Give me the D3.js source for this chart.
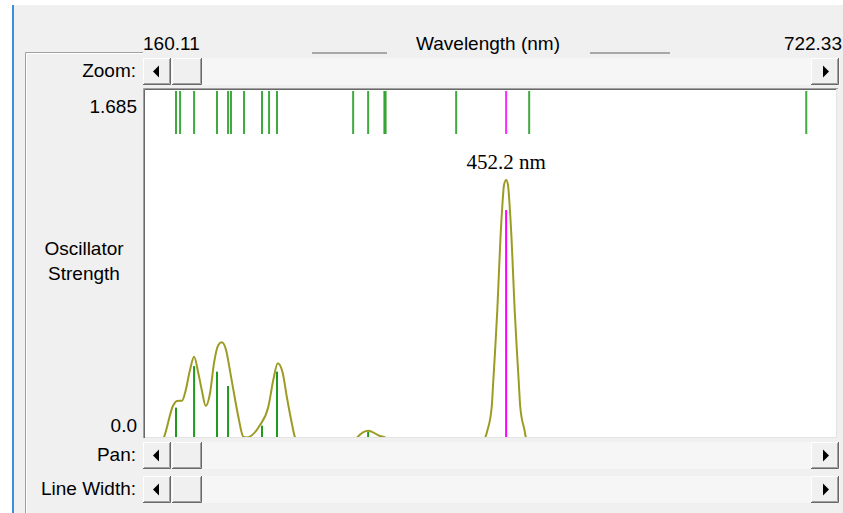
<!DOCTYPE html>
<html>
<head>
<meta charset="utf-8">
<script src="https://cdn.jsdelivr.net/npm/d3@7"></script>
<style>
    body { margin: 0; background: #f0f0f0; }
    text { font-family: "Liberation Sans", Arial, sans-serif; font-size: 19px; fill: #000; }
</style>
</head>
<body>
<div id="spectrum"></div>
<script>
// wavelength range shown (nm) and max oscillator strength
const xDomain = [160.11, 722.33];
const yMax = 1.685;
const selectedWl = 452.2;

// transitions: wavelength (nm) and oscillator strength
const stickWl = [185.9, 189.2, 200.5, 219.0, 227.9, 230.3, 240.8, 255.3, 261.0, 267.4,
                 328.8, 340.9, 354.0, 355.0, 411.9, 452.2, 470.8, 694.3];
const stickF  = [0.156, 0, 0.356, 0.329, 0.260, 0, 0, 0.069, 0, 0.329,
                 0, 0.040, 0, 0, 0, 1.107, 0, 0];

// broadened envelope
const envWl = [160.11, 174.4, 183.8, 186.7, 190.8, 193.2, 197.2, 200.5, 203.9, 206.7, 209.9,
               213.4, 216.6, 220.1, 222.8, 226.3, 228.9, 232.2, 236.2, 240.2, 242.4,
               253.7, 260.4, 264.4, 268.0, 272.0, 275.3, 279.3, 282.0, 284.0,
               330.5, 332.2, 341.1, 350.5, 354.6, 356.5,
               433.5, 435.2, 437.2, 440.6, 441.9, 443.2, 445.1, 446.5, 447.7, 449.3, 450.5,
               452.2, 453.7, 454.9, 456.5, 457.7, 459.1, 461.0, 462.3, 463.6, 467.0, 468.2, 470.0, 722.33];
const envF  = [0, 0, 0.168, 0.188, 0.189, 0.226, 0.337, 0.401, 0.323, 0.241, 0.164,
               0.226, 0.371, 0.457, 0.470, 0.433, 0.353, 0.241, 0.112, 0.016, 0.012,
               0.072, 0.160, 0.289, 0.369, 0.323, 0.208, 0.082, 0.012, 0,
               0, 0.013, 0.045, 0.019, 0.013, 0,
               0, 0.010, 0.048, 0.160, 0.289, 0.419, 0.626, 0.818, 0.979, 1.141, 1.228,
               1.252, 1.228, 1.141, 0.979, 0.818, 0.626, 0.419, 0.289, 0.160, 0.048, 0.012, 0, 0];

const W = 843, H = 513;
const plot = {left: 145, right: 836, top: 90, bottom: 437};

const svg = d3.select("#spectrum").append("svg")
    .attr("width", W)
    .attr("height", H);

const x = d3.scaleLinear().domain(xDomain).range([144, 841]);
const y = d3.scaleLinear().domain([0, yMax]).range([440, 90]);

// window background + left edge
svg.append("rect").attr("width", W).attr("height", H).attr("fill", "#f0f0f0");
svg.append("rect").attr("width", W).attr("height", 5).attr("fill", "#fff");
svg.append("rect").attr("y", 0).attr("width", 12).attr("height", H).attr("fill", "#fff");
svg.append("rect").attr("x", 12).attr("y", 5).attr("width", 2).attr("height", H).attr("fill", "#3b8ee0");

// group frame
svg.append("path").attr("d", "M25.5,513 V52.5 H143").attr("fill", "none").attr("stroke", "#a0a0a0");
svg.append("path").attr("d", "M26.5,513 V53.5 H143").attr("fill", "none").attr("stroke", "#fff");

// header labels
const fmt = d3.format(".2f");
svg.append("text").attr("x", 143).attr("y", 50).text(fmt(xDomain[0]));
svg.append("text").attr("x", 842).attr("y", 50).attr("text-anchor", "end").text(fmt(xDomain[1]));
svg.append("text").attr("x", 488).attr("y", 50).attr("text-anchor", "middle").text("Wavelength (nm)");
[[312, 387], [590, 670]].forEach(s => {
    svg.append("line")
        .attr("x1", s[0]).attr("x2", s[1]).attr("y1", 53).attr("y2", 53)
        .style("stroke", "#a8a8a8").style("stroke-width", "2px");
});

// scrollbars
function scrollbar(top, label) {
    let g = svg.append("g");
    g.append("rect").attr("x", 143).attr("y", top).attr("width", 697).attr("height", 27)
        .attr("fill", "#f6f6f6");
    button(g, 143, top, 28, 27, "left");
    button(g, 172, top, 30, 27, null);
    button(g, 811, top, 28, 27, "right");
    g.append("text").attr("x", 136).attr("y", top + 19).attr("text-anchor", "end").text(label);
}

function button(g, bx, by, bw, bh, dir) {
    g.append("rect").attr("x", bx).attr("y", by).attr("width", bw).attr("height", bh)
        .attr("fill", "#f0f0f0");
    g.append("path")
        .attr("d", `M${bx + 0.5},${by + bh - 1} V${by + 0.5} H${bx + bw - 1}`)
        .attr("fill", "none").attr("stroke", "#fff");
    g.append("path")
        .attr("d", `M${bx},${by + bh - 0.5} H${bx + bw - 0.5} V${by}`)
        .attr("fill", "none").attr("stroke", "#696969");
    g.append("path")
        .attr("d", `M${bx + 1},${by + bh - 1.5} H${bx + bw - 1.5} V${by + 1}`)
        .attr("fill", "none").attr("stroke", "#a0a0a0");
    let cx = bx + bw / 2, cy = by + bh / 2;
    if (dir === "left") {
        g.append("path").attr("d", `M${cx - 4},${cy} L${cx + 2},${cy - 6} V${cy + 6} Z`).attr("fill", "#000");
    } else if (dir === "right") {
        g.append("path").attr("d", `M${cx + 4},${cy} L${cx - 2},${cy - 6} V${cy + 6} Z`).attr("fill", "#000");
    }
}

scrollbar(58, "Zoom:");
scrollbar(442, "Pan:");
scrollbar(476, "Line Width:");

// plot area
svg.append("rect")
    .attr("x", plot.left).attr("y", plot.top)
    .attr("width", plot.right - plot.left).attr("height", plot.bottom - plot.top)
    .attr("fill", "#fff");
svg.append("path")
    .attr("d", `M${plot.left - 1.5},${plot.bottom + 1} V${plot.top - 1.5} H${plot.right + 2}`)
    .attr("fill", "none").attr("stroke", "#a0a0a0");
svg.append("path")
    .attr("d", `M${plot.left - 0.5},${plot.bottom + 1} V${plot.top - 0.5} H${plot.right + 1}`)
    .attr("fill", "none").attr("stroke", "#696969");
svg.append("path")
    .attr("d", `M${plot.left},${plot.bottom + 0.5} H${plot.right + 0.5} V${plot.top - 1}`)
    .attr("fill", "none").attr("stroke", "#e3e3e3");

svg.append("clipPath").attr("id", "clip")
    .append("rect")
    .attr("x", plot.left).attr("y", plot.top)
    .attr("width", plot.right - plot.left).attr("height", plot.bottom - plot.top);

let chart = svg.append("g").attr("clip-path", "url(#clip)");

let sticks = stickWl.map((d, i) => ({wl: d, f: stickF[i]}));
let stickColor = d => d.wl === selectedWl ? "#ff00ff" : "#1f9a1f";

// stick strip along the top
chart.selectAll(".topSticks")
    .data(sticks)
    .join("line")
    .classed("topSticks", true)
    .attr("x1", d => x(d.wl))
    .attr("x2", d => x(d.wl))
    .attr("y1", 91)
    .attr("y2", 134)
    .style("stroke", stickColor)
    .style("stroke-opacity", 0.85)
    .style("stroke-width", "2px");

// stick spectrum
chart.selectAll(".sticks")
    .data(sticks.filter(d => d.f > 0))
    .join("line")
    .classed("sticks", true)
    .attr("x1", d => x(d.wl))
    .attr("x2", d => x(d.wl))
    .attr("y1", y(0))
    .attr("y2", d => y(d.f))
    .style("stroke", stickColor)
    .style("stroke-width", "2px");

// envelope
let env = envWl.map((d, i) => ({wl: d, f: envF[i]}));
chart.append("path")
    .datum(env)
    .attr("d", d3.line().x(d => x(d.wl)).y(d => y(d.f)).curve(d3.curveMonotoneX))
    .attr("fill", "none")
    .style("stroke", "#9c9c24")
    .style("stroke-width", "2px");

// selected label
let peak = d3.max(env, d => d.f);
svg.append("text")
    .attr("x", x(selectedWl))
    .attr("y", y(peak) - 11)
    .attr("text-anchor", "middle")
    .style("font-family", "'Liberation Serif', 'Times New Roman', serif")
    .style("font-size", "21px")
    .text(`${selectedWl} nm`);

// axis labels
svg.append("text").attr("x", 137).attr("y", 113).attr("text-anchor", "end").text(d3.format(".3f")(yMax));
svg.append("text").attr("x", 137).attr("y", 432).attr("text-anchor", "end").text("0.0");
svg.append("text").attr("x", 84).attr("y", 255).attr("text-anchor", "middle").text("Oscillator");
svg.append("text").attr("x", 84).attr("y", 280).attr("text-anchor", "middle").text("Strength");
</script>
</body>
</html>
